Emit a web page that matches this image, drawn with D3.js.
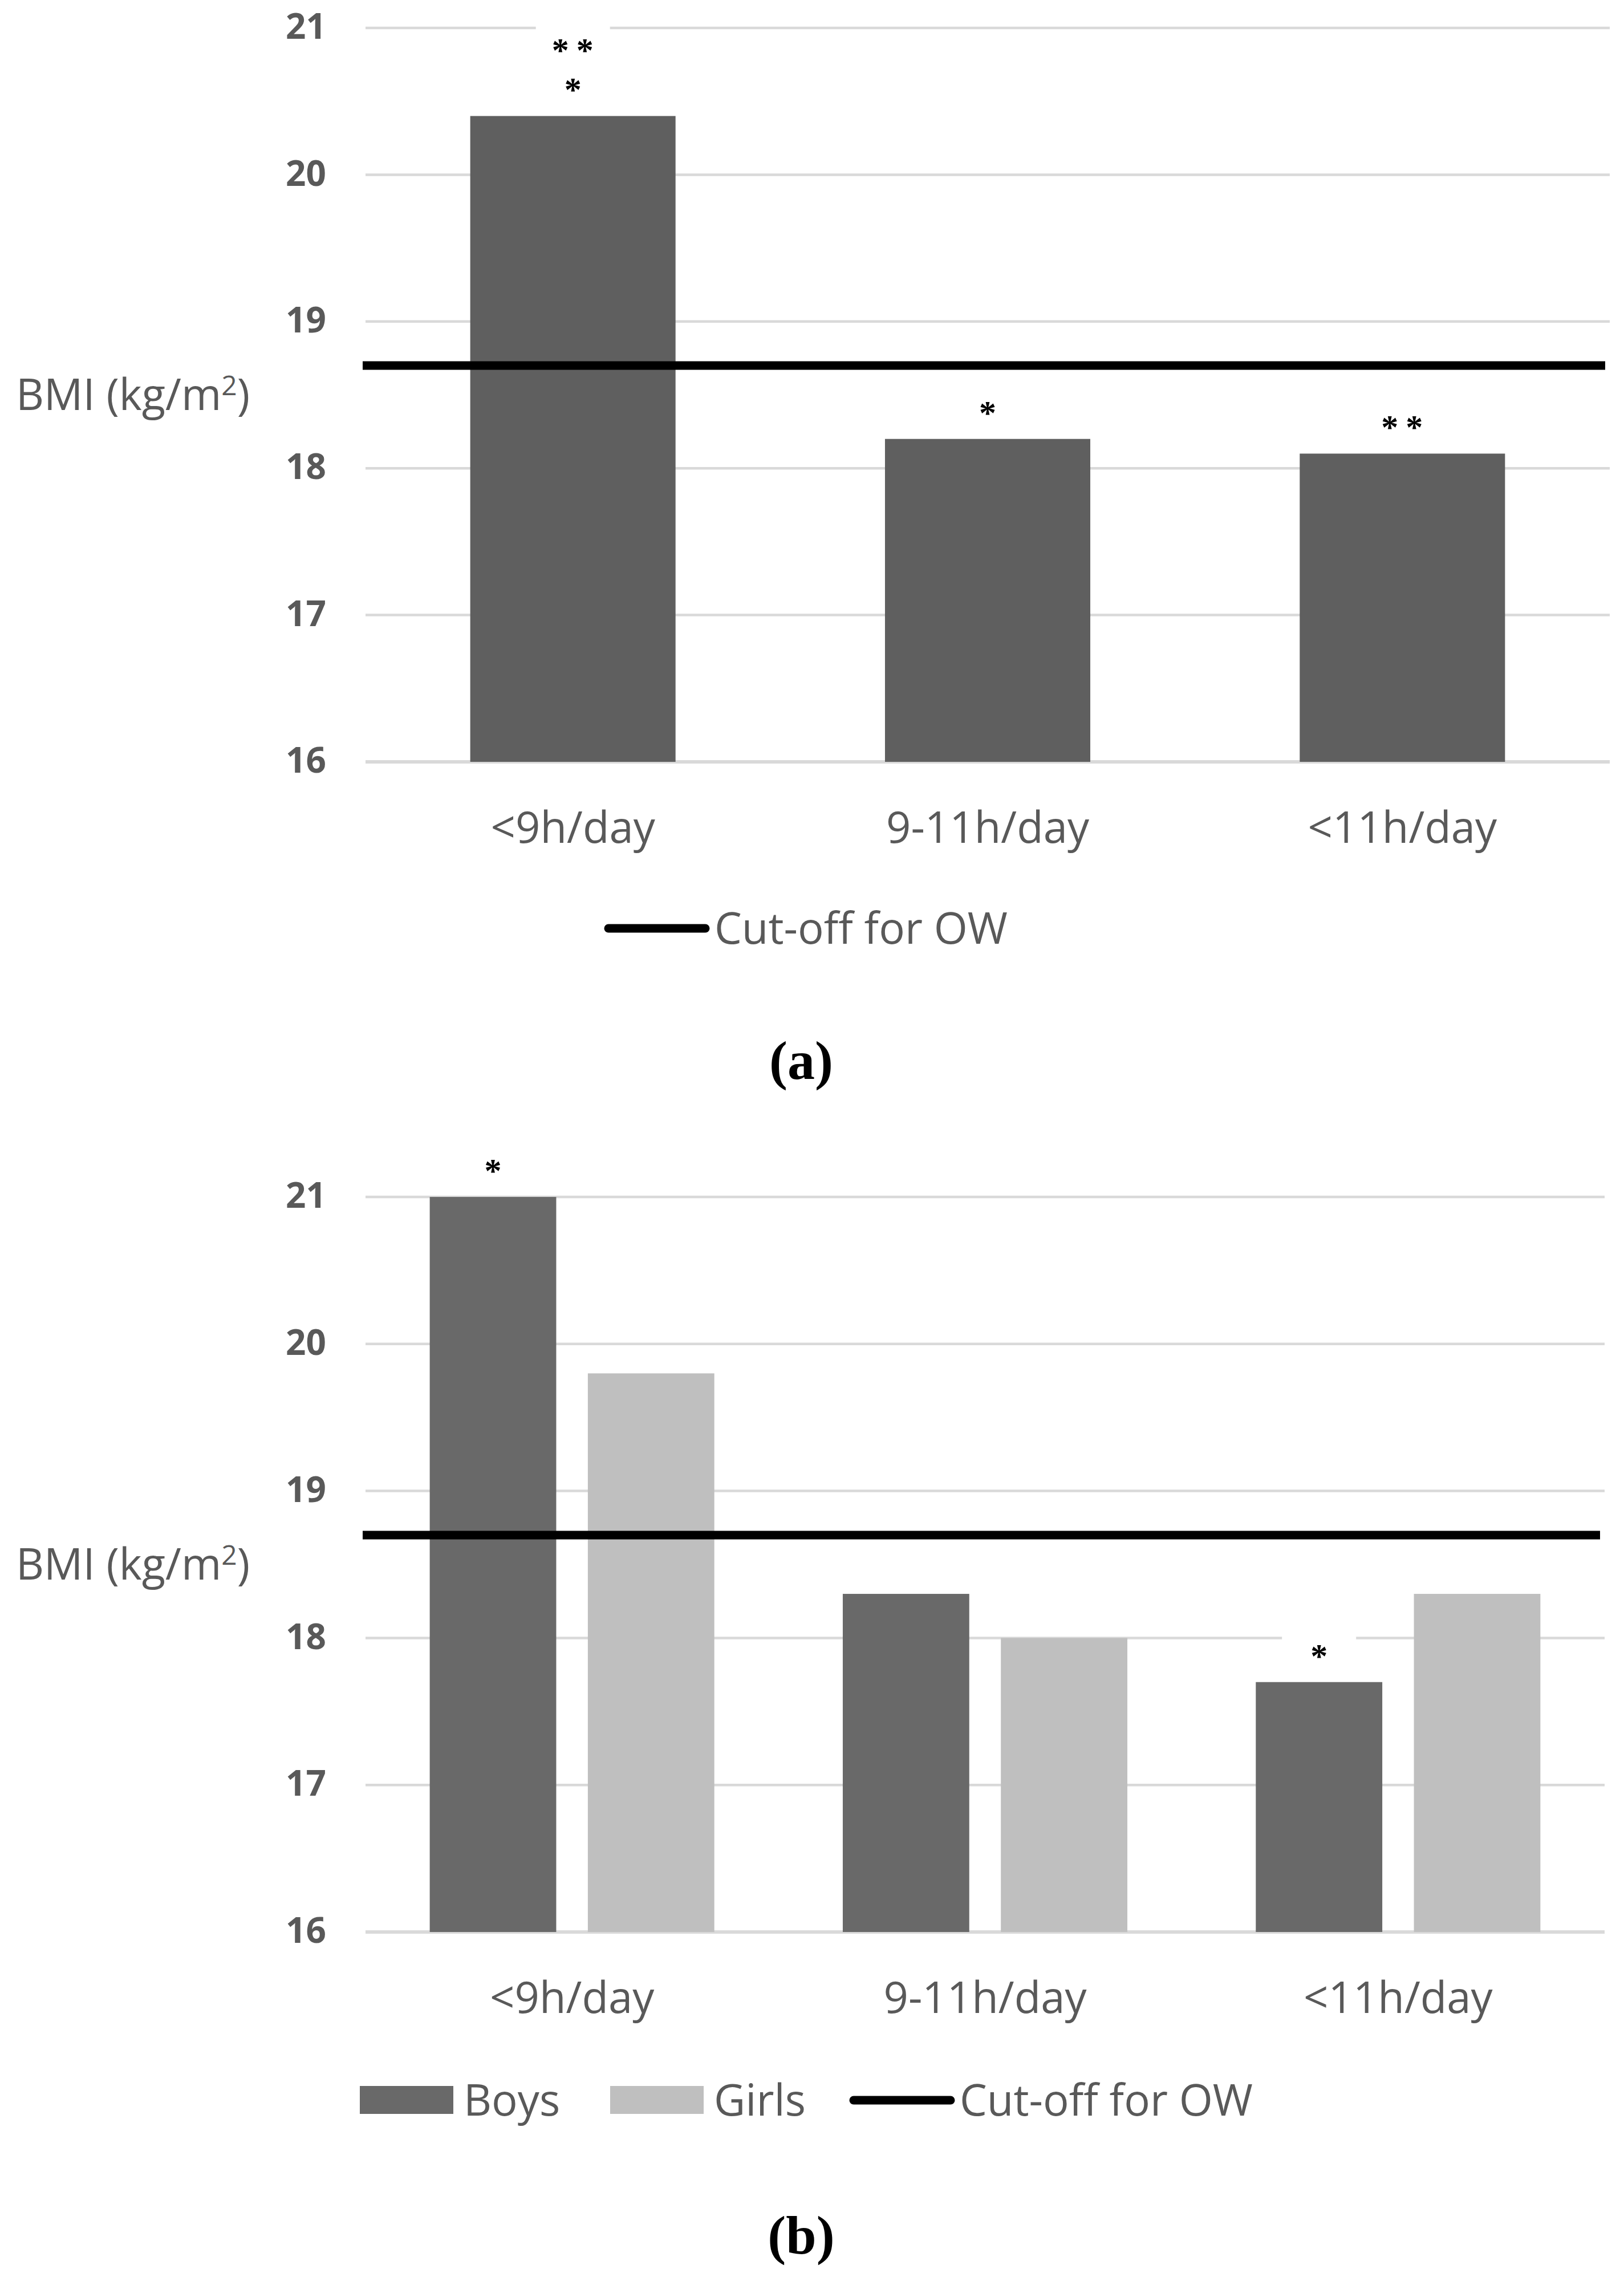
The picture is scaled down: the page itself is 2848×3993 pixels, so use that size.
<!DOCTYPE html>
<meta charset="utf-8">
<script src="https://cdn.jsdelivr.net/npm/d3@7"></script>
<style>
body {
  margin: 0;
  background-color: #ffffff;
}
.tick text {
  font-family: "Open Sans", sans-serif;
  font-weight: bold;
  font-size: 62px;
  fill: #595959;
}
.lbl {
  font-family: "Open Sans", sans-serif;
  font-size: 76px;
  fill: #595959;
}
.star {
  font-family: "Liberation Serif", serif;
  font-weight: bold;
  font-size: 60px;
  fill: #000;
}
.caption {
  font-family: "Liberation Serif", serif;
  font-weight: bold;
  font-size: 96px;
  fill: #000;
}
</style>
<body>
  <div id="chart"></div>
</body>
<script>
var categories = ["<9h/day", "9-11h/day", "<11h/day"];
var bmiAll = [20.4, 18.2, 18.1];
var bmiBoys = [21.0, 18.3, 17.7];
var bmiGirls = [19.8, 18.0, 18.3];
var cutoff = 18.7;
var yTicks = [16, 17, 18, 19, 20, 21];
var starsAll = [["**", "*"], ["*"], ["**"]];
var starsBoys = [["*"], [], ["*"]];
var starsGirls = [[], [], []];

var W = 2848, H = 3993;

var svg = d3.select("#chart").append("svg")
    .attr("width", W)
    .attr("height", H);

function drawPanel(p) {
  var g = svg.append("g");

  var y = d3.scaleLinear().domain([16, 21]).range([p.bottom, p.top]);
  var x0 = d3.scaleBand().domain(categories).range([p.left, p.right])
      .paddingInner(p.pad).paddingOuter(p.pad / 2);
  var names = p.series.map(function(s) { return s.name; });
  var x1 = d3.scaleBand().domain(names).range([0, x0.bandwidth()])
      .paddingInner(p.series.length > 1 ? 0.2 : 0);

  // gridlines
  g.selectAll(".grid")
    .data(yTicks)
    .enter().append("line")
    .attr("x1", p.left)
    .attr("x2", p.right)
    .attr("y1", function(d) { return y(d); })
    .attr("y2", function(d) { return y(d); })
    .style("stroke", "#d9d9d9")
    .style("stroke-width", function(d) { return d === 16 ? 6 : 4.5; });

  // y axis labels
  var axis = g.append("g")
    .attr("transform", "translate(" + (p.left - 69) + ",0)")
    .call(d3.axisLeft(y).tickValues(yTicks).tickFormat(d3.format("d")).tickSize(0).tickPadding(0));
  axis.select(".domain").remove();
  axis.selectAll(".tick text").attr("dy", "0.3em").attr("x", 0);

  p.series.forEach(function(s) {
    var labels = [];
    s.values.forEach(function(v, i) {
      if (s.stars[i].length) labels.push({v: v, cat: categories[i], lines: s.stars[i]});
    });
    var cx = function(d) { return x0(d.cat) + x1(s.name) + x1.bandwidth() / 2; };
    var lastY = function(d) { return y(d.v) - 55; };

    // white box behind significance marks
    g.selectAll(null)
      .data(labels)
      .enter().append("rect")
      .attr("x", function(d) { return cx(d) - 65; })
      .attr("y", function(d) { return lastY(d) - 69 * (d.lines.length - 1) - 35; })
      .attr("width", 130)
      .attr("height", function(d) { return 69 * (d.lines.length - 1) + 70; })
      .style("fill", "#fff");

    g.selectAll(null)
      .data(s.values)
      .enter().append("rect")
      .attr("x", function(d, i) { return x0(categories[i]) + x1(s.name); })
      .attr("y", function(d) { return y(d); })
      .attr("width", x1.bandwidth())
      .attr("height", function(d) { return y(16) - y(d); })
      .style("fill", s.color);

    labels.forEach(function(d) {
      var t = g.append("text")
        .attr("class", "star")
        .attr("text-anchor", "middle");
      d.lines.forEach(function(line, j) {
        t.append("tspan")
          .attr("x", cx(d) + (line.length > 1 ? 6 : 0))
          .attr("y", lastY(d) - 69 * (d.lines.length - 1 - j) + 29)
          .style("letter-spacing", line.length > 1 ? "13px" : "0px")
          .text(line);
      });
    });
  });

  // cut-off line
  g.append("line")
    .attr("x1", p.left - 5)
    .attr("x2", p.right - 8)
    .attr("y1", y(cutoff))
    .attr("y2", y(cutoff))
    .style("stroke", "#000")
    .style("stroke-width", 15);

  // category labels
  g.selectAll(null)
    .data(categories)
    .enter().append("text")
    .attr("class", "lbl")
    .attr("x", function(d) { return x0(d) + x0.bandwidth() / 2; })
    .attr("y", y(16) + 142)
    .attr("text-anchor", "middle")
    .text(function(d) { return d; });

  // axis title
  var t = g.append("text")
    .attr("class", "lbl")
    .attr("x", 28)
    .attr("y", y(18.5) + 26);
  t.append("tspan").text("BMI (kg/m");
  t.append("tspan").attr("dy", -26).style("font-size", "48px").text("2");
  t.append("tspan").attr("dy", 26).text(")");

  // legend
  p.legend.forEach(function(l) {
    if (l.type === "rect") {
      g.append("rect")
        .attr("x", l.x).attr("y", p.legendY - 25)
        .attr("width", 164).attr("height", 49)
        .style("fill", l.color);
      g.append("text").attr("class", "lbl")
        .attr("x", l.x + 182).attr("y", p.legendY + 27).text(l.name);
    } else {
      g.append("line")
        .attr("x1", l.x).attr("x2", l.x + 170)
        .attr("y1", p.legendY).attr("y2", p.legendY)
        .style("stroke", "#000").style("stroke-width", 15)
        .style("stroke-linecap", "round");
      g.append("text").attr("class", "lbl")
        .attr("x", l.x + 186).attr("y", p.legendY + 27).text(l.name);
    }
  });

  g.append("text")
    .attr("class", "caption")
    .attr("x", 1405)
    .attr("y", p.captionY)
    .attr("text-anchor", "middle")
    .text(p.caption);
}

drawPanel({
  top: 49, bottom: 1336, left: 641, right: 2823, pad: 0.505,
  series: [{name: "All", values: bmiAll, color: "#5f5f5f", stars: starsAll}],
  legendY: 1628,
  legend: [{type: "line", name: "Cut-off for OW", x: 1067}],
  caption: "(a)", captionY: 1892
});

drawPanel({
  top: 2099, bottom: 3388, left: 641, right: 2814, pad: 0.311,
  series: [
    {name: "Boys", values: bmiBoys, color: "#696969", stars: starsBoys},
    {name: "Girls", values: bmiGirls, color: "#bfbfbf", stars: starsGirls}
  ],
  legendY: 3683,
  legend: [
    {type: "rect", name: "Boys", x: 631, color: "#696969"},
    {type: "rect", name: "Girls", x: 1070, color: "#bfbfbf"},
    {type: "line", name: "Cut-off for OW", x: 1497}
  ],
  caption: "(b)", captionY: 3952
});
</script>
